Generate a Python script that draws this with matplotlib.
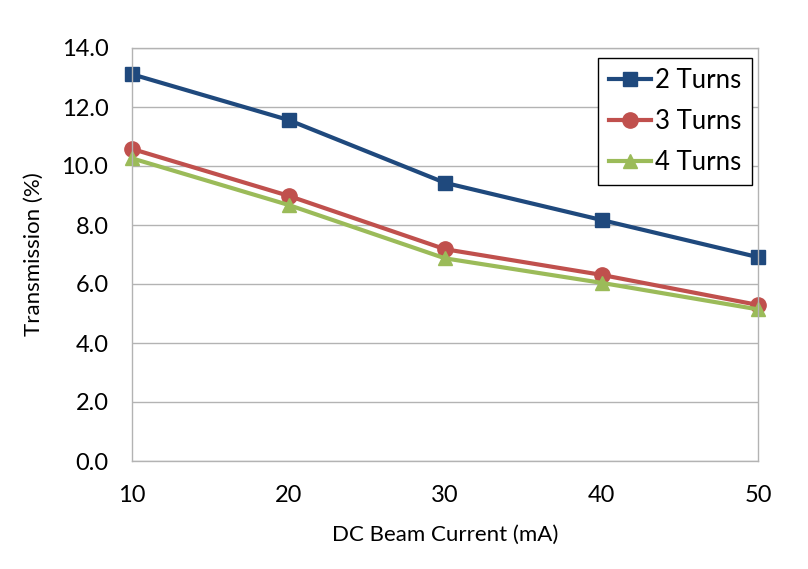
import matplotlib
matplotlib.use("Agg")
import matplotlib.pyplot as plt

plt.rcParams['font.family'] = ['Lato', 'DejaVu Sans']

current = [10, 20, 30, 40, 50]
turns2 = [13.11, 11.56, 9.43, 8.17, 6.91]
turns3 = [10.58, 8.99, 7.18, 6.31, 5.29]
turns4 = [10.26, 8.68, 6.87, 6.04, 5.14]
yticks = [0, 2, 4, 6, 8, 10, 12, 14]

fig = plt.figure(figsize=(8.08, 5.69), dpi=100)
ax = fig.add_axes([132/808, 1-461/569, (758-132)/808, (461-48)/569])

ax.plot(current, turns2, color='#1F497D', lw=3, marker='s', ms=10, label='2 Turns', clip_on=False)
ax.plot(current, turns3, color='#C0504D', lw=3, marker='o', ms=11, label='3 Turns', clip_on=False)
ax.plot(current, turns4, color='#9BBB59', lw=3, marker='^', ms=10, label='4 Turns', clip_on=False)

ax.set_xlim(10, 50)
ax.set_ylim(0, 14)
ax.set_xticks(current)
ax.set_yticks(yticks)
ax.set_yticklabels([f"{v:.1f}" for v in yticks])
ax.tick_params(axis='y', length=0, labelsize=17, pad=17)
ax.tick_params(axis='x', length=0, labelsize=17, pad=17)
ax.grid(axis='y', color='#B3B3B3', lw=1)
ax.set_axisbelow(True)
for s in ax.spines.values():
    s.set_color('#B3B3B3')
    s.set_linewidth(1)

ax.set_xlabel('DC Beam Current (mA)', fontsize=16, labelpad=14)
ax.set_ylabel('Transmission (%)', fontsize=16, labelpad=13)

leg = ax.legend(loc='upper right', bbox_to_anchor=(0.9904, 0.9758), borderaxespad=0,
                fontsize=18.5, frameon=True, fancybox=False, edgecolor='black',
                framealpha=1, handlelength=1.67, labelspacing=0.62, borderpad=0.4,
                handletextpad=0.15)
leg.get_frame().set_linewidth(1)

fig.savefig('out.png', dpi=100)
